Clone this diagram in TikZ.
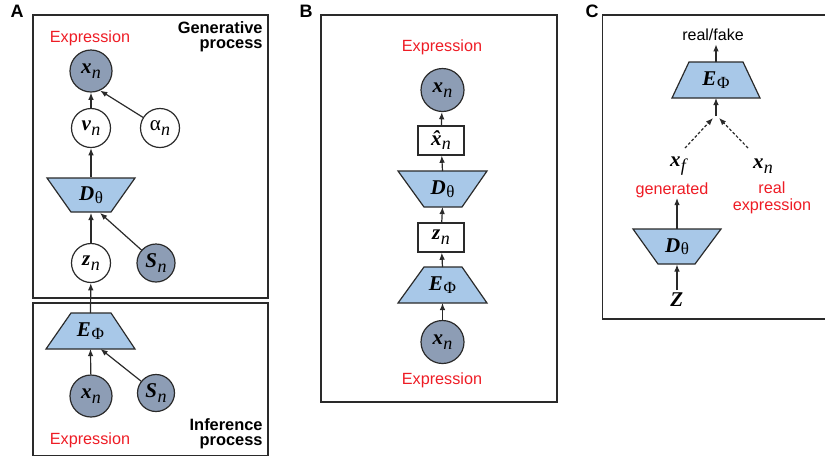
\documentclass[tikz,border=0pt]{standalone}
\usepackage{fontspec}
\setmainfont{Liberation Sans}
\newfontfamily\tms{Liberation Serif}
\usetikzlibrary{arrows.meta,calc}
\definecolor{nodegray}{HTML}{8D9DB5}
\definecolor{trapblue}{HTML}{A8C8E8}
\definecolor{exred}{HTML}{EE1C25}
\definecolor{linec}{HTML}{2A2A2A}
\newcommand\mvar[2]{{\tms\fontsize{10.5}{11}\selectfont\bfseries\itshape #1}\kern0.2pt\raisebox{-2.4pt}{\tms\fontsize{9}{10}\selectfont\itshape #2}}
\newcommand\mgrk[2]{{\tms\fontsize{10.5}{11}\selectfont\bfseries\itshape #1}\kern0.3pt\raisebox{-1.3pt}{\tms\fontsize{8.5}{10}\selectfont #2}}
\newcommand\malpha{{\tms\fontsize{10.5}{11}\selectfont α}\raisebox{-2.4pt}{\tms\fontsize{9}{10}\selectfont\itshape n}}
\newcommand\mhat{{\tms\fontsize{10.5}{11}\selectfont\bfseries\itshape \^{x}}\kern0.2pt\raisebox{-2.4pt}{\tms\fontsize{9}{10}\selectfont\itshape n}}
\begin{document}
\begin{tikzpicture}[x=0.5pt,y=-0.5pt,
  frame/.style={draw=linec, line width=0.75pt},
  obsnode/.style={circle, draw=linec, line width=0.6pt, fill=nodegray, inner sep=0pt, minimum size=#1},
  latnode/.style={circle, draw=linec, line width=0.6pt, fill=white, inner sep=0pt, minimum size=#1},
  trapshape/.style={draw=linec, line width=0.6pt, fill=trapblue},
  traplabel/.style={inner sep=0pt, minimum width=#1, minimum height=17.5pt},
  sqbox/.style={draw=linec, line width=0.6pt, fill=white, inner sep=0pt, minimum width=23pt, minimum height=14.5pt},
  arr/.style={-{Latex[length=3.6pt,width=2.8pt]}, line width=0.6pt, draw=linec},
  darr/.style={arr, dash pattern=on 1.4pt off 1pt},
  redtxt/.style={text=exred, font=\fontsize{8.1}{8.6}\selectfont, inner sep=0pt},
  blktxt/.style={font=\fontsize{8}{8.6}\selectfont, inner sep=0pt},
  boldtxt/.style={font=\bfseries\fontsize{8.2}{7.6}\selectfont, align=right, inner sep=0pt},
  panel/.style={font=\bfseries\fontsize{9}{10}\selectfont, inner sep=0pt},
  plain/.style={inner sep=1pt}
]
\useasboundingbox (0,0) rectangle (825,457);

% ---------------- Panel A ----------------
\node[panel] (pA) at (17,11) {A};
\draw[frame] (33,15) rectangle (268,298);
\draw[frame] (33,303) rectangle (268,455.5);
\node[boldtxt, anchor=east] (gen) at (263,37) {Generative\\process};
\node[boldtxt, anchor=east] (inf) at (263,434) {Inference\\process};
\node[redtxt] (exA1) at (90,38) {Expression};
\node[redtxt] (exA2) at (90,440) {Expression};

\node[obsnode=21pt] (xA) at (91,71) {\mvar{x}{n}};
\node[latnode=19.5pt] (vA) at (91,128) {\mvar{v}{n}};
\node[latnode=19.5pt] (aA) at (160,128) {\malpha};
\draw[trapshape] (47,178) -- (135,178) -- (111,212) -- (71,212) -- cycle;
\node[traplabel=44pt] (DA) at (91,195) {\mgrk{D}{θ}};
\node[latnode=19.5pt] (zA) at (91,263) {\mvar{z}{n}};
\node[obsnode=19pt] (sA) at (156,263) {\mvar{S}{n}};

\draw[trapshape] (71,313) -- (111,313) -- (135,349) -- (46,349) -- cycle;
\node[traplabel=44.5pt] (EA) at (90.5,331) {\mgrk{E}{Φ}};
\node[obsnode=21pt] (xA2) at (91,396) {\mvar{x}{n}};
\node[obsnode=18.5pt] (sA2) at (156,393) {\mvar{S}{n}};

\draw[arr] (vA) -- (xA);
\draw[arr] (aA) -- (xA.-65);
\draw[arr] (DA.north) -- (vA);
\draw[arr] (zA) -- (DA.south);
\draw[arr] (sA) -- ($(DA.south)+(9,0)$);
\draw[arr] (EA.north) -- (zA);
\draw[arr] (xA2) -- (EA.south);
\draw[arr] (sA2) -- ($(EA.south)+(10,0)$);

% ---------------- Panel B ----------------
\node[panel] (pB) at (306,11) {B};
\draw[frame] (321,15) rectangle (557,402);
\node[redtxt] (exB1) at (442,47) {Expression};
\node[redtxt] (exB2) at (442,380) {Expression};
\node[obsnode=21.5pt] (xB) at (442.5,90) {\mvar{x}{n}};
\node[sqbox] (hB) at (441,140.5) {\mhat};
\draw[trapshape] (398,171) -- (487,171) -- (462,207) -- (424,207) -- cycle;
\node[traplabel=44.5pt] (DB) at (442.5,189) {\mgrk{D}{θ}};
\node[sqbox] (zB) at (441,237.5) {\mvar{z}{n}};
\draw[trapshape] (424,267) -- (462,267) -- (487,303) -- (398,303) -- cycle;
\node[traplabel=44.5pt] (EB) at (442.5,285) {\mgrk{E}{Φ}};
\node[obsnode=21.5pt] (xB2) at (442.5,342) {\mvar{x}{n}};

\draw[arr] (xB2) -- (EB.south);
\draw[arr] (EB.north) -- (zB);
\draw[arr] (zB) -- (DB.south);
\draw[arr] (DB.north) -- (hB);
\draw[arr] (hB) -- (xB);

% ---------------- Panel C ----------------
\node[panel] (pC) at (592,11) {C};
\draw[frame] (825,15) -- (602.5,15) -- (602.5,319) -- (825,319);
\node[blktxt] (rf) at (713,35) {real/fake};
\draw[trapshape] (689,62) -- (743,62) -- (760,98) -- (672,98) -- cycle;
\node[traplabel=44pt] (EC) at (716,80) {\mgrk{E}{Φ}};
\coordinate (jn) at (716,116);
\coordinate (jl) at (713,118);
\coordinate (jr) at (719,118);
\node[plain] (xf) at (678,166) {\mvar{x}{f}};
\node[plain] (xn) at (763,166) {\mvar{x}{n}};
\node[redtxt] (gn) at (672,190) {generated};
\node[redtxt, align=center] (re) at (772,197.5) {real\\expression};
\draw[trapshape] (633,229) -- (721,229) -- (695,264) -- (658,264) -- cycle;
\node[traplabel=44pt] (DC) at (677,246.5) {\mgrk{D}{θ}};
\node[plain] (zz) at (677,302) {\mvar{Z}{}};

\draw[arr] (EC.north) -- ($(rf.south)+(3,3)$);
\draw[arr] (jn) -- (EC.south);
\draw[darr] (685,148) -- (jl);
\draw[darr] (748,148) -- (jr);
\draw[arr] (DC.north) -- (gn.south -| DC.north);
\draw[arr] (zz) -- (DC.south);
\end{tikzpicture}
\end{document}
